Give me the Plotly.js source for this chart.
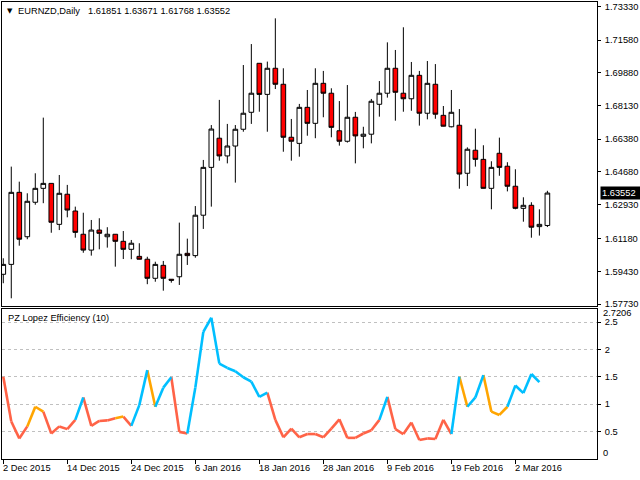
<!DOCTYPE html>
<html>
<head>
<meta charset="utf-8">
<script src="https://cdn.plot.ly/plotly-3.0.1.min.js"></script>
<style>html,body{margin:0;padding:0;background:#fff;}#chart{width:640px;height:480px;}</style>
</head>
<body>
<div id="chart"></div>
<script>
// ---------- data ----------
var dates = ['2015-12-02','2015-12-03','2015-12-04','2015-12-07','2015-12-08','2015-12-09','2015-12-10','2015-12-11',
'2015-12-14','2015-12-15','2015-12-16','2015-12-17','2015-12-18','2015-12-21','2015-12-22','2015-12-23',
'2015-12-24','2015-12-28','2015-12-29','2015-12-30','2015-12-31','2016-01-01','2016-01-04','2016-01-05',
'2016-01-06','2016-01-07','2016-01-08','2016-01-11','2016-01-12','2016-01-13','2016-01-14','2016-01-15',
'2016-01-18','2016-01-19','2016-01-20','2016-01-21','2016-01-22','2016-01-25','2016-01-26','2016-01-27',
'2016-01-28','2016-01-29','2016-02-01','2016-02-02','2016-02-03','2016-02-04','2016-02-05','2016-02-08',
'2016-02-09','2016-02-10','2016-02-11','2016-02-12','2016-02-15','2016-02-16','2016-02-17','2016-02-18',
'2016-02-19','2016-02-22','2016-02-23','2016-02-24','2016-02-25','2016-02-26','2016-02-29','2016-03-01',
'2016-03-02','2016-03-03','2016-03-04','2016-03-07','2016-03-08'];

var openP = [1.5929,1.5981,1.6359,1.6126,1.6307,1.6380,1.6406,1.6191,1.6349,1.6261,
1.6139,1.6056,1.6161,1.6126,1.6139,1.6102,1.6060,1.6023,1.6008,1.5908,
1.5976,1.5903,1.5916,1.6039,1.6027,1.6239,1.6490,1.6643,1.6550,1.6602,
1.6690,1.6779,1.7036,1.6873,1.7010,1.6926,1.6648,1.6616,1.6805,1.6721,
1.6931,1.6879,1.6682,1.6627,1.6753,1.6653,1.6664,1.6821,1.6879,1.7010,
1.6879,1.6850,1.6973,1.6774,1.6926,1.6763,1.6703,1.6711,1.6459,1.6580,
1.6532,1.6380,1.6564,1.6496,1.6391,1.6275,1.6291,1.6179,1.61851];
var highP = [1.6013,1.6494,1.6415,1.6354,1.6459,1.6751,1.6407,1.6450,1.6398,1.6284,
1.6252,1.6214,1.6223,1.6176,1.6140,1.6156,1.6109,1.6092,1.6021,1.5995,
1.5999,1.5904,1.6200,1.6116,1.6287,1.6529,1.6712,1.6844,1.6718,1.6712,
1.7027,1.7137,1.7037,1.7045,1.7272,1.7010,1.6744,1.6823,1.6896,1.7010,
1.6996,1.6905,1.6838,1.6922,1.6781,1.6703,1.6849,1.6943,1.7146,1.7106,
1.7225,1.7043,1.6996,1.7048,1.7032,1.6812,1.6896,1.6796,1.6595,1.6693,
1.6606,1.6522,1.6646,1.6517,1.6480,1.6333,1.6307,1.6270,1.63671];
var lowP = [1.5882,1.5803,1.6079,1.6113,1.6294,1.6302,1.6147,1.6161,1.6228,1.6121,
1.6042,1.6027,1.6060,1.6069,1.5969,1.6009,1.6008,1.6007,1.5877,1.5890,
1.5843,1.5885,1.5873,1.5978,1.6016,1.6167,1.6284,1.6525,1.6511,1.6410,
1.6677,1.6718,1.6782,1.6677,1.6901,1.6572,1.6525,1.6546,1.6656,1.6643,
1.6753,1.6648,1.6604,1.6620,1.6511,1.6590,1.6616,1.6756,1.6856,1.6735,
1.6782,1.6787,1.6709,1.6742,1.6745,1.6705,1.6700,1.6378,1.6392,1.6494,
1.6379,1.6270,1.6446,1.6364,1.6270,1.6205,1.6121,1.6132,1.61768];
var closeP = [1.5981,1.6359,1.6113,1.6312,1.6380,1.6406,1.6202,1.6354,1.6266,1.6149,
1.6056,1.6161,1.6144,1.6139,1.6102,1.6060,1.6092,1.6008,1.5908,1.5981,
1.5908,1.5898,1.6034,1.6027,1.6239,1.6490,1.6691,1.6550,1.6602,1.6690,
1.6774,1.6879,1.6873,1.7010,1.6926,1.6648,1.6627,1.6805,1.6721,1.6931,
1.6879,1.6700,1.6627,1.6753,1.6655,1.6664,1.6837,1.6879,1.7010,1.6884,
1.6850,1.6973,1.6774,1.6931,1.6769,1.6706,1.6779,1.6455,1.6585,1.6532,
1.6380,1.6490,1.6490,1.6391,1.6275,1.6291,1.6176,1.6191,1.63552];

// PZ Lopez Efficiency (10), one value per bar (last bar not computed)
var lopez = [1.50,0.68,0.37,0.59,0.95,0.86,0.46,0.59,0.54,0.71,
1.12,0.60,0.69,0.70,0.74,0.77,0.60,0.98,1.62,0.95,
1.30,1.49,0.49,0.46,1.30,2.32,2.58,1.74,1.66,1.60,
1.49,1.41,1.13,1.21,0.71,0.39,0.55,0.39,0.45,0.45,
0.39,0.55,0.72,0.38,0.38,0.46,0.52,0.71,1.13,0.54,
0.45,0.66,0.34,0.37,0.36,0.71,0.45,1.50,0.95,1.12,
1.53,0.86,0.80,0.95,1.34,1.20,1.55,1.40];
// colour state of each segment (bar k -> bar k+1): r = weak, b = rising, o = falling
var segState = ('rrroorrrrb' + 'rrrrorbbob' + 'brrbbbbbbb' + 'bbbrrrrrrr' +
                'rrrrrrrbrr' + 'rrrrrrbobb' + 'ooobbbb').split('');

var priceTicks = [1.57730,1.59430,1.61180,1.62930,1.64680,1.66380,1.68130,1.69880,1.71580,1.73330];
var lopezTicks = [0.5,1,1.5,2,2.5];
var lopezMax = 2.7206;
var dateLabelDates = ['2015-12-02','2015-12-14','2015-12-24','2016-01-06','2016-01-18','2016-01-28','2016-02-09','2016-02-19','2016-03-02'];
var dateLabelText  = ['2 Dec 2015','14 Dec 2015','24 Dec 2015','6 Jan 2016','18 Jan 2016','28 Jan 2016','9 Feb 2016','19 Feb 2016','2 Mar 2016'];
var symbolText = 'EURNZD,Daily';
var lastBar = openP.length - 1;

// ---------- layout helpers ----------
var W = 640, H = 480, ML = 2, MR = 43, MT = 2, MB = 21;
var PW = W - ML - MR, PH = H - MT - MB;
function px(x) { return (x - ML) / PW; }
function py(y) { return (H - MB - y) / PH; }

var idx = dates.map(function (d, i) { return i; });
var FONT = 'Liberation Sans, Arial, sans-serif';
var colors = { r: '#FF6347', b: '#00BFFF', o: '#FFA500' };

var traces = [{
  type: 'candlestick', x: idx, open: openP, high: highP, low: lowP, close: closeP,
  xaxis: 'x', yaxis: 'y', whiskerwidth: 0,
  increasing: { line: { color: '#000000', width: 1 }, fillcolor: '#FFFFFF' },
  decreasing: { line: { color: '#000000', width: 1 }, fillcolor: '#FF0000' },
  hoverinfo: 'skip', showlegend: false
}];

['r', 'o', 'b'].forEach(function (c) {
  var xs = [], ys = [];
  segState.forEach(function (s, k) {
    if (s === c) { xs.push(k, k + 1, null); ys.push(lopez[k], lopez[k + 1], null); }
  });
  traces.push({
    type: 'scatter', mode: 'lines', x: xs, y: ys, xaxis: 'x2', yaxis: 'y2',
    line: { color: colors[c], width: 2.6 }, connectgaps: false,
    hoverinfo: 'skip', showlegend: false
  });
});

var annotations = [];
annotations.push({ xref: 'paper', yref: 'paper', x: px(5), y: py(11), xanchor: 'left', yanchor: 'middle',
  text: '▼', showarrow: false, font: { family: 'DejaVu Sans', size: 7, color: '#000' } });
annotations.push({ xref: 'paper', yref: 'paper', x: px(16), y: py(11), xanchor: 'left', yanchor: 'middle',
  text: symbolText, showarrow: false, font: { family: FONT, size: 9.3, color: '#000' } });
annotations.push({ xref: 'paper', yref: 'paper', x: px(86), y: py(11), xanchor: 'left', yanchor: 'middle',
  text: [openP[lastBar], highP[lastBar], lowP[lastBar], closeP[lastBar]].map(function (v) { return v.toFixed(5); }).join(' '),
  showarrow: false, font: { family: FONT, size: 9.3, color: '#000' } });
annotations.push({ xref: 'paper', yref: 'paper', x: px(6), y: py(318), xanchor: 'left', yanchor: 'middle',
  text: 'PZ Lopez Efficiency (10)', showarrow: false, font: { family: FONT, size: 9.3, color: '#000' } });
// current price box
annotations.push({ xref: 'paper', yref: 'y', x: px(600), y: closeP[lastBar], xanchor: 'left', yanchor: 'middle',
  text: closeP[lastBar].toFixed(5), showarrow: false, bgcolor: '#000000', borderpad: 1,
  font: { family: FONT, size: 9.3, color: '#FFFFFF' }, width: 38, align: 'left' });
// indicator max / zero labels
annotations.push({ xref: 'paper', yref: 'y2', x: px(601), y: lopezMax, xanchor: 'left', yanchor: 'middle', yshift: -3,
  text: lopezMax.toFixed(4), showarrow: false, font: { family: FONT, size: 9.3, color: '#000' } });
annotations.push({ xref: 'paper', yref: 'y2', x: px(601), y: 0, xanchor: 'left', yanchor: 'middle', yshift: 6,
  text: '0', showarrow: false, font: { family: FONT, size: 9.3, color: '#000' } });
// date labels
dateLabelDates.forEach(function (d, j) {
  annotations.push({ xref: 'x2', yref: 'paper', x: dates.indexOf(d), y: py(468), xanchor: 'left', yanchor: 'middle',
    xshift: -2, text: dateLabelText[j], showarrow: false, font: { family: FONT, size: 9.3, color: '#000' } });
});

var xr = [-0.16, 74.2];
var layout = {
  width: W, height: H,
  margin: { l: ML, r: MR, t: MT, b: MB, pad: 0 },
  paper_bgcolor: '#FFFFFF', plot_bgcolor: '#FFFFFF',
  showlegend: false, boxgap: 0.42, boxgroupgap: 0,
  font: { family: FONT, size: 9.3, color: '#000' },
  xaxis: { domain: [0, 1], anchor: 'y', range: xr, showline: true, mirror: true, linecolor: '#000', linewidth: 1,
    showticklabels: false, ticks: '', showgrid: false, zeroline: false, rangeslider: { visible: false }, fixedrange: true },
  yaxis: { domain: [py(306), 1], anchor: 'x', side: 'right', range: [1.57626, 1.73577],
    tickvals: priceTicks, ticktext: priceTicks.map(function (v) { return v.toFixed(5); }),
    ticks: 'outside', ticklen: 3, tickcolor: '#000', ticklabelstandoff: 2,
    showline: true, mirror: true, linecolor: '#000', linewidth: 1, showgrid: false, zeroline: false,
    tickfont: { family: FONT, size: 9.3, color: '#000' } },
  xaxis2: { domain: [0, 1], anchor: 'y2', matches: 'x', range: xr, showline: true, mirror: true, linecolor: '#000', linewidth: 1,
    tickvals: dateLabelDates.map(function (d) { return dates.indexOf(d); }), ticks: 'outside', ticklen: 4, tickcolor: '#000',
    showticklabels: false, showgrid: false, zeroline: false },
  yaxis2: { domain: [0, py(309)], anchor: 'x2', side: 'right', range: [-0.007, 2.74],
    tickvals: lopezTicks, ticktext: lopezTicks.map(String),
    ticks: 'outside', ticklen: 3, tickcolor: '#000', ticklabelstandoff: 2,
    showline: true, mirror: true, linecolor: '#000', linewidth: 1,
    showgrid: true, gridcolor: '#C0C0C0', griddash: '3px,3px', gridwidth: 1, zeroline: false,
    tickfont: { family: FONT, size: 9.3, color: '#000' } },
  annotations: annotations
};

Plotly.newPlot('chart', traces, layout, { staticPlot: true, displayModeBar: false });
</script>
</body>
</html>
